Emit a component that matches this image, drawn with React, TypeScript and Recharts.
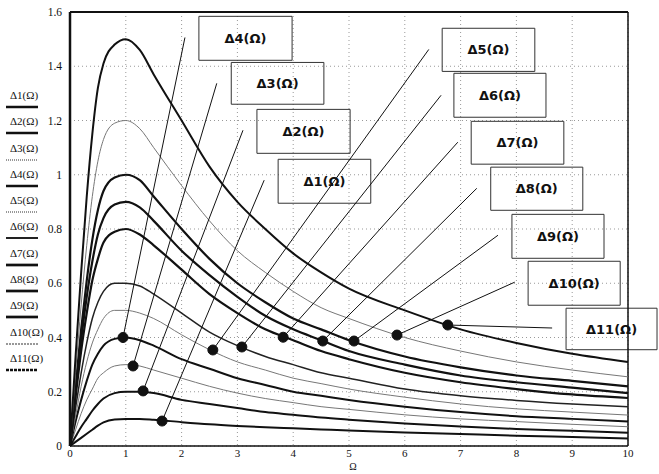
import { ComposedChart, Line, XAxis, YAxis, CartesianGrid, ReferenceArea, ReferenceLine, ReferenceDot } from 'recharts';

// Ω values sampled along the x axis
const omega = [0, 0.1, 0.2, 0.3, 0.4, 0.5, 0.6, 0.8, 1, 1.25, 1.5, 2, 2.5, 3, 3.5, 4, 4.5, 5, 6, 7, 8, 9, 10];

// curve values, one array per Δi(Ω)
const delta1 = [0, 0.015, 0.03, 0.045, 0.06, 0.075, 0.087, 0.098, 0.1, 0.1, 0.097, 0.088, 0.08, 0.074, 0.069, 0.065, 0.061, 0.057, 0.05, 0.044, 0.038, 0.033, 0.028];
const delta2 = [0, 0.035, 0.07, 0.1, 0.13, 0.155, 0.175, 0.195, 0.2, 0.2, 0.195, 0.17, 0.155, 0.14, 0.125, 0.115, 0.105, 0.097, 0.083, 0.072, 0.063, 0.056, 0.049];
const delta3 = [0, 0.06, 0.12, 0.17, 0.21, 0.25, 0.27, 0.295, 0.3, 0.295, 0.28, 0.25, 0.22, 0.195, 0.175, 0.16, 0.145, 0.135, 0.115, 0.1, 0.09, 0.08, 0.071];
const delta4 = [0, 0.09, 0.17, 0.24, 0.3, 0.34, 0.37, 0.395, 0.4, 0.39, 0.37, 0.32, 0.285, 0.25, 0.225, 0.2, 0.185, 0.17, 0.145, 0.125, 0.11, 0.1, 0.09];
const delta5 = [0, 0.11, 0.22, 0.31, 0.38, 0.43, 0.47, 0.5, 0.5, 0.49, 0.47, 0.41, 0.355, 0.31, 0.28, 0.25, 0.23, 0.21, 0.18, 0.155, 0.137, 0.125, 0.114];
const delta6 = [0, 0.14, 0.27, 0.38, 0.47, 0.53, 0.57, 0.6, 0.6, 0.59, 0.56, 0.49, 0.42, 0.37, 0.33, 0.3, 0.27, 0.25, 0.21, 0.185, 0.168, 0.155, 0.145];
const delta7 = [0, 0.18, 0.35, 0.49, 0.61, 0.69, 0.75, 0.79, 0.8, 0.78, 0.74, 0.65, 0.56, 0.49, 0.43, 0.39, 0.35, 0.32, 0.27, 0.235, 0.21, 0.19, 0.177];
const delta8 = [0, 0.2, 0.39, 0.55, 0.68, 0.78, 0.84, 0.89, 0.9, 0.88, 0.83, 0.72, 0.63, 0.55, 0.48, 0.43, 0.39, 0.35, 0.3, 0.26, 0.235, 0.215, 0.195];
const delta9 = [0, 0.22, 0.43, 0.61, 0.76, 0.87, 0.94, 0.99, 1.0, 0.98, 0.92, 0.8, 0.69, 0.6, 0.53, 0.47, 0.43, 0.39, 0.33, 0.29, 0.26, 0.24, 0.22];
const delta10 = [0, 0.27, 0.52, 0.74, 0.92, 1.05, 1.13, 1.19, 1.2, 1.17, 1.1, 0.96, 0.83, 0.72, 0.64, 0.57, 0.51, 0.47, 0.4, 0.35, 0.31, 0.28, 0.255];
const delta11 = [0, 0.33, 0.64, 0.92, 1.15, 1.32, 1.41, 1.48, 1.5, 1.46, 1.37, 1.2, 1.03, 0.9, 0.8, 0.71, 0.64, 0.58, 0.5, 0.43, 0.38, 0.34, 0.31];

const seriesNames = ['Δ1(Ω)', 'Δ2(Ω)', 'Δ3(Ω)', 'Δ4(Ω)', 'Δ5(Ω)', 'Δ6(Ω)', 'Δ7(Ω)', 'Δ8(Ω)', 'Δ9(Ω)', 'Δ10(Ω)', 'Δ11(Ω)'];
const seriesValues = [delta1, delta2, delta3, delta4, delta5, delta6, delta7, delta8, delta9, delta10, delta11];

// marked points on each curve
const markerX = [1.65, 1.31, 1.13, 0.95, 2.56, 3.08, 3.82, 4.53, 5.09, 5.86, 6.77];
const markerY = [0.092, 0.203, 0.295, 0.4, 0.354, 0.365, 0.401, 0.387, 0.387, 0.409, 0.446];

const xTicks = [0, 1, 2, 3, 4, 5, 6, 7, 8, 9, 10];
const yTicks = [0, 0.2, 0.4, 0.6, 0.8, 1, 1.2, 1.4, 1.6];

// label boxes (data units) and where their leader lines start
const boxes = [
  { x1: 3.73, x2: 5.39, y1: 0.895, y2: 1.057, lx: 3.48, ly: 0.98 },
  { x1: 3.35, x2: 5.02, y1: 1.079, y2: 1.241, lx: 3.1, ly: 1.164 },
  { x1: 2.89, x2: 4.55, y1: 1.26, y2: 1.414, lx: 2.63, ly: 1.337 },
  { x1: 2.31, x2: 3.98, y1: 1.422, y2: 1.584, lx: 2.06, ly: 1.506 },
  { x1: 6.67, x2: 8.33, y1: 1.381, y2: 1.54, lx: 6.43, ly: 1.462 },
  { x1: 6.88, x2: 8.53, y1: 1.212, y2: 1.374, lx: 6.65, ly: 1.293 },
  { x1: 7.19, x2: 8.85, y1: 1.039, y2: 1.197, lx: 6.95, ly: 1.12 },
  { x1: 7.54, x2: 9.19, y1: 0.869, y2: 1.028, lx: 7.29, ly: 0.95 },
  { x1: 7.92, x2: 9.57, y1: 0.692, y2: 0.854, lx: 7.67, ly: 0.777 },
  { x1: 8.21, x2: 9.86, y1: 0.519, y2: 0.681, lx: 7.97, ly: 0.604 },
  { x1: 8.89, x2: 10.52, y1: 0.355, y2: 0.508, lx: 8.64, ly: 0.435 },
];

const lineStyles = [
  { stroke: '#111', width: 2 },
  { stroke: '#111', width: 2 },
  { stroke: '#777', width: 1 },
  { stroke: '#111', width: 2 },
  { stroke: '#777', width: 1 },
  { stroke: '#222', width: 1.5 },
  { stroke: '#111', width: 2.2 },
  { stroke: '#111', width: 2.2 },
  { stroke: '#111', width: 2.2 },
  { stroke: '#777', width: 1 },
  { stroke: '#111', width: 2 },
];

const legendDash = ['', '', '1 1', '', '1 1', '', '', '', '', '2 1', '3 1'];

const rows = omega.map((x, i) => {
  const row: Record<string, number> = { x };
  seriesValues.forEach((vals, k) => {
    row[`d${k + 1}`] = vals[i];
  });
  return row;
});

const serif = '"Liberation Serif", "DejaVu Serif", serif';

export default function App() {
  return (
    <div style={{ position: 'absolute', left: 0, top: 0, width: 659, height: 474, background: '#fff', overflow: 'hidden' }}>
      <ComposedChart width={659} height={474} data={rows} margin={{ top: 12, right: 31, left: 0, bottom: 0 }}>
        <CartesianGrid stroke="#999" strokeDasharray="1 3" />
        <XAxis
          type="number"
          dataKey="x"
          domain={[0, 10]}
          ticks={xTicks}
          height={28}
          tickLine={false}
          tickSize={3}
          tickMargin={0}
          axisLine={{ stroke: '#111', strokeWidth: 1.5 }}
          tick={{ fill: '#111', fontSize: 11, fontFamily: serif }}
          label={{ value: 'Ω', position: 'bottom', offset: -11, fill: '#111', fontSize: 10, fontFamily: serif, dx: 4 }}
        />
        <YAxis
          type="number"
          domain={[0, 1.6]}
          ticks={yTicks}
          width={70}
          tickLine={false}
          axisLine={{ stroke: '#111', strokeWidth: 2.5 }}
          tickFormatter={(v: number) => String(v)}
          tick={{ fill: '#111', fontSize: 11.5, fontFamily: serif }}
        />
        <ReferenceLine y={1.6} stroke="#111" strokeWidth={2} />
        <ReferenceLine x={10} stroke="#111" strokeWidth={1.5} />
        {seriesNames.map((name, k) => (
          <Line
            key={name}
            name={name}
            dataKey={`d${k + 1}`}
            type="monotone"
            stroke={lineStyles[k].stroke}
            strokeWidth={lineStyles[k].width}
            dot={false}
            activeDot={false}
            isAnimationActive={false}
          />
        ))}
        {boxes.map((b, k) => (
          <ReferenceLine
            key={`lead-${k}`}
            segment={[{ x: b.lx, y: b.ly }, { x: markerX[k], y: markerY[k] }]}
            stroke="#111"
            strokeWidth={1}
            ifOverflow="visible"
          />
        ))}
        {boxes.map((b, k) => (
          <ReferenceArea
            key={`box-${k}`}
            x1={b.x1}
            x2={b.x2}
            y1={b.y1}
            y2={b.y2}
            fill="#fff"
            fillOpacity={0}
            stroke="#333"
            strokeWidth={1}
            ifOverflow="visible"
            label={{ value: seriesNames[k], position: 'center', fill: '#111', fontSize: 13, fontWeight: 'bold', fontFamily: '"DejaVu Sans", sans-serif' }}
          />
        ))}
        {markerX.map((mx, k) => (
          <ReferenceDot key={`dot-${k}`} x={mx} y={markerY[k]} r={5} fill="#111" stroke="#111" ifOverflow="visible" />
        ))}
      </ComposedChart>
      <div style={{ position: 'absolute', left: 4, top: 88 }}>
        {seriesNames.map((name, k) => (
          <div key={name} style={{ height: 26.3, width: 40, position: 'relative' }}>
            <div style={{ fontFamily: serif, fontSize: 11, color: '#111', lineHeight: '14px', paddingLeft: 6 }}>{name}</div>
            <svg width={36} height={6} style={{ position: 'absolute', left: 2, top: 16 }}>
              <line
                x1={0}
                y1={3}
                x2={32}
                y2={3}
                stroke={lineStyles[k].stroke}
                strokeWidth={lineStyles[k].width + 0.5}
                strokeDasharray={legendDash[k] || undefined}
              />
            </svg>
          </div>
        ))}
      </div>
    </div>
  );
}
